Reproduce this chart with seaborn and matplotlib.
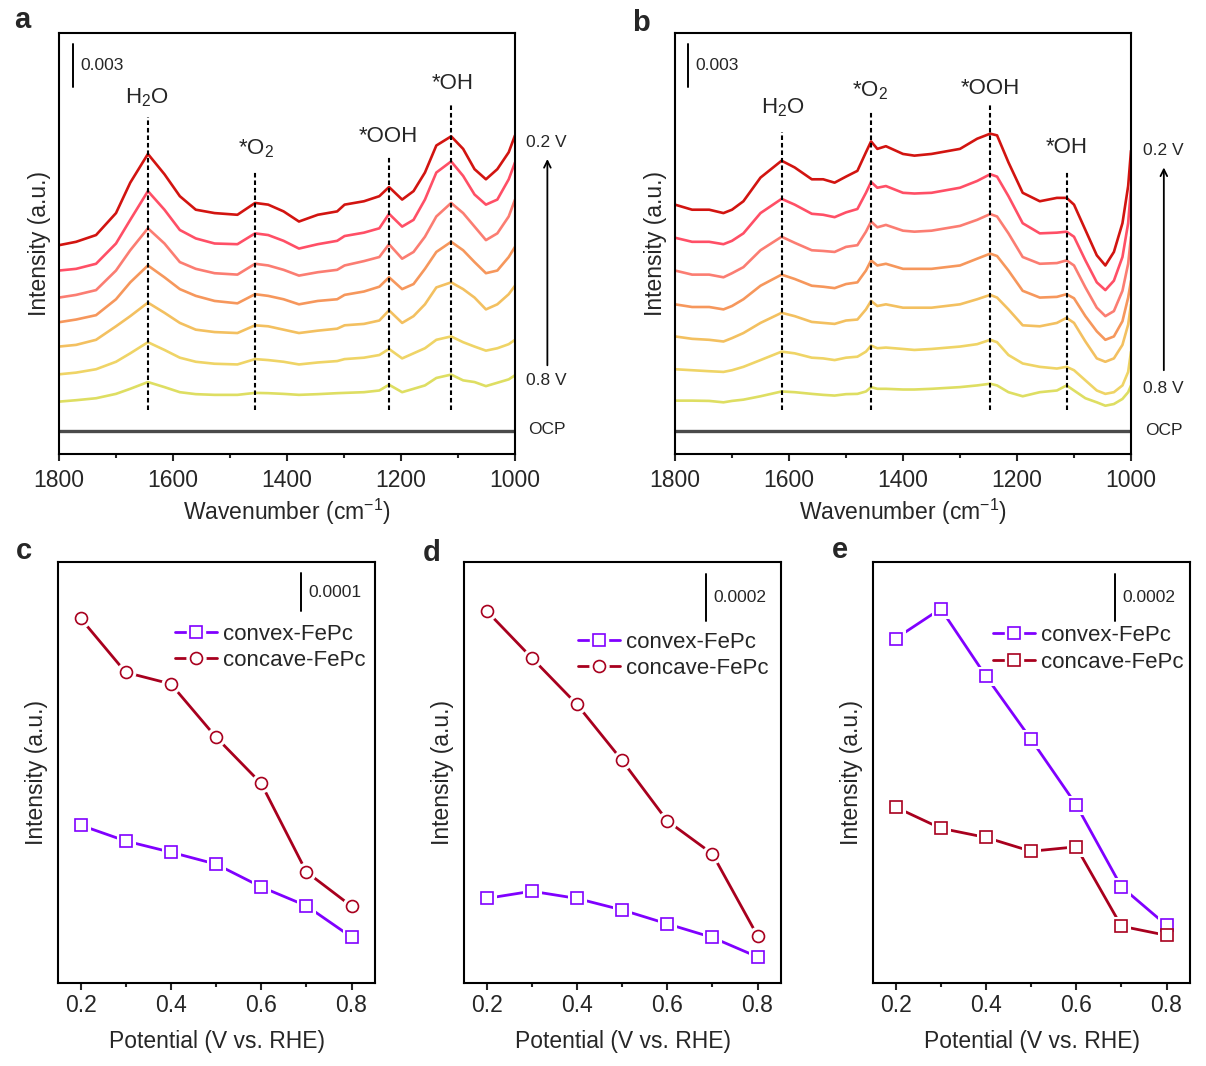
import numpy as np
import pandas as pd
import matplotlib
matplotlib.use("Agg")
import matplotlib.pyplot as plt
import matplotlib.transforms as mtransforms
from matplotlib.ticker import MultipleLocator
from matplotlib.lines import Line2D
from matplotlib.legend_handler import HandlerTuple
import seaborn as sns

# ---------------- data ----------------
potentials_V = ["0.2 V", "0.3 V", "0.4 V", "0.5 V", "0.6 V", "0.7 V", "0.8 V"]

# panel a : in-situ spectra, intensity in units of 1e-3 (offset stacked)
wn_a = [1800, 1770, 1735, 1700, 1675, 1644, 1615, 1588, 1560, 1527, 1487, 1456, 1433, 1406, 1379, 1346,
        1312, 1299, 1265, 1238, 1221, 1198, 1178, 1158, 1138, 1112, 1091, 1071, 1051, 1031, 1011, 1000]
a_02V = [14.83, 15.07, 15.55, 17.11, 19.27, 21.31, 19.87, 18.31, 17.35, 17.11, 16.99, 17.83, 17.71, 17.23, 16.51, 16.99,
         17.23, 17.71, 17.95, 18.31, 18.96, 18.07, 18.67, 19.99, 21.91, 22.56, 21.67, 20.23, 19.51, 20.23, 21.43, 22.63]
a_03V = [13.03, 13.15, 13.51, 14.95, 16.63, 18.67, 17.35, 15.91, 15.31, 14.95, 14.90, 15.67, 15.55, 15.14, 14.59, 14.90,
         15.14, 15.48, 15.72, 16.03, 17.06, 16.15, 16.63, 18.07, 19.99, 20.78, 19.75, 18.43, 17.71, 18.07, 19.51, 20.71]
a_04V = [11.11, 11.30, 11.64, 13.03, 14.47, 16.03, 14.95, 13.63, 13.15, 12.84, 12.74, 13.51, 13.39, 13.08, 12.67, 12.91,
         13.08, 13.39, 13.70, 13.99, 14.90, 13.87, 14.35, 15.43, 16.87, 17.83, 17.11, 16.15, 15.19, 15.67, 16.87, 18.07]
a_05V = [9.36, 9.55, 9.86, 10.99, 12.19, 13.39, 12.55, 11.71, 11.23, 10.87, 10.70, 11.35, 11.23, 10.99, 10.63, 10.87,
         10.99, 11.30, 11.54, 11.88, 12.55, 11.71, 12.07, 13.15, 14.35, 15.07, 14.47, 13.63, 12.84, 13.03, 13.99, 14.71]
a_06V = [7.63, 7.75, 8.11, 9.07, 9.79, 10.75, 10.03, 9.31, 8.83, 8.66, 8.59, 9.14, 9.07, 8.83, 8.59, 8.76,
         8.90, 9.14, 9.24, 9.48, 10.20, 9.31, 9.79, 10.63, 11.83, 12.19, 11.71, 11.11, 10.27, 10.63, 11.35, 11.95]
a_07V = [5.66, 5.78, 6.02, 6.55, 7.15, 7.94, 7.39, 6.84, 6.55, 6.41, 6.36, 6.74, 6.67, 6.55, 6.36, 6.50,
         6.60, 6.74, 6.84, 7.03, 7.46, 6.79, 7.15, 7.51, 8.11, 8.35, 7.94, 7.63, 7.34, 7.51, 7.80, 8.11]
a_08V = [3.72, 3.82, 3.96, 4.27, 4.63, 5.11, 4.75, 4.39, 4.25, 4.20, 4.20, 4.34, 4.32, 4.27, 4.20, 4.25,
         4.32, 4.34, 4.39, 4.51, 4.92, 4.39, 4.63, 4.87, 5.40, 5.64, 5.23, 5.11, 4.82, 5.06, 5.30, 5.59]
ocp_a = 1.65
peaks_a = [1644, 1456, 1221, 1112]
peak_labels_a = ["H$_2$O", "*O$_2$", "*OOH", "*OH"]

# panel b
wn_b = [1800, 1770, 1740, 1715, 1700, 1680, 1650, 1613, 1590, 1560, 1540, 1520, 1500, 1480, 1465, 1456, 1445, 1430, 1400,
        1380, 1350, 1300, 1270, 1247, 1235, 1215, 1190, 1160, 1130, 1113, 1100, 1080, 1060, 1045, 1030, 1015, 1005, 1000]
b_02V = [17.71, 17.35, 17.35, 17.11, 17.35, 17.95, 19.63, 20.83, 20.35, 19.51, 19.51, 19.27, 19.70, 20.11, 21.43, 22.20, 21.67, 21.86, 21.31,
         21.19, 21.31, 21.67, 22.39, 22.75, 22.63, 20.71, 18.55, 17.95, 18.19, 18.19, 17.71, 15.91, 14.11, 13.39, 14.35, 16.39, 19.03, 21.55]
b_03V = [15.36, 15.07, 15.07, 14.90, 15.14, 15.67, 17.11, 18.12, 17.71, 17.06, 16.99, 16.82, 17.16, 17.40, 18.55, 19.32, 18.91, 19.03, 18.55,
         18.50, 18.55, 18.91, 19.39, 19.87, 19.70, 18.31, 16.39, 15.67, 15.72, 15.79, 15.43, 13.75, 12.19, 11.64, 12.31, 13.99, 16.39, 18.91]
b_04V = [13.03, 12.74, 12.74, 12.55, 12.84, 13.27, 14.47, 15.43, 15.00, 14.47, 14.42, 14.35, 14.71, 14.83, 15.79, 16.51, 16.10, 16.27, 15.86,
         15.79, 15.86, 16.20, 16.63, 17.04, 16.87, 15.67, 13.99, 13.51, 13.56, 13.75, 13.39, 11.83, 10.39, 9.79, 10.15, 11.59, 13.51, 15.43]
b_05V = [10.63, 10.44, 10.44, 10.27, 10.51, 10.99, 11.95, 12.74, 12.43, 11.95, 11.88, 11.78, 12.07, 12.19, 13.03, 13.75, 13.39, 13.51, 13.15,
         13.15, 13.15, 13.39, 13.87, 14.23, 14.06, 13.03, 11.59, 11.11, 11.16, 11.35, 11.06, 9.79, 8.71, 8.11, 8.35, 9.43, 11.11, 12.31]
b_06V = [8.35, 8.18, 8.11, 7.99, 8.23, 8.59, 9.31, 10.03, 9.79, 9.38, 9.31, 9.24, 9.48, 9.55, 10.27, 10.87, 10.51, 10.63, 10.39,
         10.39, 10.39, 10.63, 10.99, 11.30, 11.11, 10.27, 9.14, 9.07, 9.31, 9.67, 9.31, 7.99, 6.79, 6.55, 6.79, 7.75, 9.19, 10.63]
b_07V = [6.02, 5.95, 5.88, 5.83, 5.95, 6.19, 6.67, 7.27, 7.15, 6.84, 6.79, 6.67, 6.84, 6.91, 7.27, 7.70, 7.51, 7.56, 7.46,
         7.39, 7.46, 7.63, 7.80, 8.11, 7.94, 7.03, 6.43, 6.19, 6.07, 6.19, 5.95, 5.23, 4.51, 4.27, 4.39, 4.87, 5.83, 7.27]
b_08V = [3.79, 3.79, 3.77, 3.67, 3.77, 3.86, 4.10, 4.44, 4.39, 4.27, 4.20, 4.15, 4.25, 4.27, 4.44, 4.75, 4.63, 4.63, 4.58,
         4.58, 4.63, 4.75, 4.87, 4.99, 4.87, 4.39, 4.10, 4.39, 4.51, 4.87, 4.51, 3.96, 3.67, 3.43, 3.55, 3.91, 4.39, 4.87]
ocp_b = 1.62
peaks_b = [1613, 1456, 1247, 1113]
peak_labels_b = ["H$_2$O", "*O$_2$", "*OOH", "*OH"]

# panels c-e : peak intensity vs potential, units of 1e-4
potential = [0.2, 0.3, 0.4, 0.5, 0.6, 0.7, 0.8]
c_convex = [4.09, 3.68, 3.39, 3.08, 2.49, 2.00, 1.19]
c_concave = [9.45, 8.05, 7.75, 6.37, 5.17, 2.88, 1.99]
d_convex = [3.53, 3.83, 3.53, 3.05, 2.47, 1.90, 1.09]
d_concave = [15.53, 13.57, 11.63, 9.29, 6.77, 5.39, 1.97]
e_convex = [14.67, 15.94, 13.07, 10.38, 7.59, 4.10, 2.46]
e_concave = [7.49, 6.59, 6.20, 5.61, 5.80, 2.42, 2.03]
series_names = ["convex-FePc", "concave-FePc"]

# ---------------- style ----------------
sns.set_style("ticks")
plt.rcParams["font.family"] = ["Liberation Sans", "DejaVu Sans"]
plt.rcParams["mathtext.fontset"] = "custom"
plt.rcParams["mathtext.rm"] = "Liberation Sans"
plt.rcParams["mathtext.it"] = "Liberation Sans:italic"
plt.rcParams["mathtext.bf"] = "Liberation Sans:bold"
plt.rcParams["axes.linewidth"] = 1.5
plt.rcParams["axes.edgecolor"] = "black"

spec_colors = ["#d21410", "#ff4f66", "#fb7d72", "#f6975c", "#f3c060", "#efd466", "#dede62"]
col_convex = "#8000ff"
col_concave = "#a8001e"

FS_LABEL = 16.5
FS_TICK = 16.5
FS_PEAK = 16
FS_SMALL = 12.5
FS_LEG = 16

W, H = 1206, 1066
fig = plt.figure(figsize=(W / 100, H / 100), dpi=100)
fig.patch.set_facecolor("white")


def px_axes(l, t, r, b):
    return fig.add_axes([l / W, 1 - b / H, (r - l) / W, (b - t) / H])


ax_a = px_axes(59, 33, 515, 454)
ax_b = px_axes(675, 33, 1131, 454)
ax_c = px_axes(58, 562, 375, 983)
ax_d = px_axes(464, 562, 781, 983)
ax_e = px_axes(873, 562, 1190, 983)


def style_axes(ax, major, minor, pad):
    for s in ax.spines.values():
        s.set_visible(True)
        s.set_linewidth(1.5)
        s.set_color("black")
    ax.xaxis.set_major_locator(MultipleLocator(major))
    ax.xaxis.set_minor_locator(MultipleLocator(minor))
    ax.tick_params(axis="x", which="major", direction="out", length=5, width=1.5,
                   labelsize=FS_TICK, pad=pad, top=False)
    ax.tick_params(axis="x", which="minor", direction="out", length=3, width=1.5, top=False)
    ax.tick_params(axis="y", which="both", left=False, right=False, labelleft=False)
    ax.set_facecolor("white")


def draw_spectra(ax, wn, curves, ocp, peaks, labels, line_tops, label_xy,
                 bar_x, bar_lab_x, v_labels_y, arrow_y, ocp_lab_y, txt_x, arr_x):
    rows = []
    for name, vals in zip(potentials_V, curves):
        for w, v in zip(wn, vals):
            rows.append((name, w, v))
    df = pd.DataFrame(rows, columns=["potential", "wavenumber", "intensity"])
    sns.lineplot(data=df, x="wavenumber", y="intensity", hue="potential",
                 hue_order=potentials_V, palette=spec_colors, estimator=None,
                 legend=False, linewidth=1.9, ax=ax)
    ax.axhline(ocp, color="#4a4a4a", lw=2.4)
    ax.set_xlim(1800, 1000)
    ax.set_ylim(0, 29.9)
    for p, top in zip(peaks, line_tops):
        ax.vlines(p, 3.1, top, colors="black", linestyles=(0, (2.2, 1.4)), lw=1.5, zorder=5)
    for lab, (lx, ly) in zip(labels, label_xy):
        ax.text(lx, ly, lab, ha="center", va="baseline", fontsize=FS_PEAK)
    # scale bar 0.003
    ax.plot([bar_x, bar_x], [26.1, 29.1], color="black", lw=1.4)
    ax.text(bar_lab_x, 27.6, "0.003", ha="left", va="center", fontsize=FS_SMALL)
    style_axes(ax, 200, 100, 5.5)
    ax.set_xlabel("Wavenumber (cm$^{-1}$)", fontsize=FS_LABEL, labelpad=4)
    ax.set_ylabel("Intensity (a.u.)", fontsize=FS_LABEL, labelpad=6)
    trans = mtransforms.blended_transform_factory(ax.transAxes, ax.transData)
    ax.text(txt_x, v_labels_y[0], "0.2 V", transform=trans, ha="left", va="center", fontsize=FS_SMALL)
    ax.text(txt_x, v_labels_y[1], "0.8 V", transform=trans, ha="left", va="center", fontsize=FS_SMALL)
    ax.text(txt_x + 0.004, ocp_lab_y, "OCP", transform=trans, ha="left", va="center", fontsize=FS_SMALL)
    ax.annotate("", xy=(arr_x, arrow_y[1]), xytext=(arr_x, arrow_y[0]), xycoords=trans, textcoords=trans,
                arrowprops=dict(arrowstyle="->", lw=1.3, color="black", mutation_scale=12,
                                shrinkA=0, shrinkB=0),
                annotation_clip=False)


draw_spectra(ax_a, wn_a, [a_02V, a_03V, a_04V, a_05V, a_06V, a_07V, a_08V], ocp_a,
             peaks_a, peak_labels_a, [23.95, 20.1, 21.1, 24.9],
             [(1645, 24.9), (1455, 21.3), (1223, 22.15), (1110, 25.9)],
             1775, 1762, (22.15, 5.23), (6.3, 20.95), 1.75, 1.024, 1.071)

draw_spectra(ax_b, wn_b, [b_02V, b_03V, b_04V, b_05V, b_06V, b_07V, b_08V], ocp_b,
             peaks_b, peak_labels_b, [22.9, 24.4, 24.8, 20.0],
             [(1611, 24.2), (1457, 25.4), (1247, 25.6), (1113, 21.4)],
             1777, 1765, (21.55, 4.63), (5.95, 20.35), 1.65, 1.027, 1.072)


def draw_trend(ax, conv, conc, conc_marker, ylim, bar, bar_label, leg_anchor):
    ms = 8.6
    specs = [(conv, col_convex, "s"), (conc, col_concave, conc_marker)]
    handles = []
    for vals, col, mk in specs:
        sns.lineplot(x=potential, y=vals, color=col, lw=2.0, ax=ax, estimator=None, zorder=2)
    for vals, col, mk in specs:
        sns.lineplot(x=potential, y=vals, color="white", marker=mk, markersize=ms + 5,
                     markerfacecolor="white", markeredgecolor="white", linestyle="",
                     ax=ax, estimator=None, zorder=3)
        sns.lineplot(x=potential, y=vals, color=col, marker=mk, markersize=ms,
                     markerfacecolor="white", markeredgecolor=col, markeredgewidth=1.2,
                     linestyle="", ax=ax, estimator=None, zorder=4)
        h_line = Line2D([], [], color=col, lw=2.0)
        h_halo = Line2D([], [], color="white", marker=mk, markersize=ms + 5, linestyle="",
                        markerfacecolor="white", markeredgecolor="white")
        h_mk = Line2D([], [], color=col, marker=mk, markersize=ms, linestyle="",
                      markerfacecolor="white", markeredgecolor=col, markeredgewidth=1.2)
        handles.append((h_line, h_halo, h_mk))
    ax.set_xlim(0.15, 0.852)
    ax.set_ylim(*ylim)
    bx, by0, by1 = bar
    ax.plot([bx, bx], [by0, by1], color="black", lw=1.4)
    ax.text(bx + 0.017, (by0 + by1) / 2, bar_label, ha="left", va="center", fontsize=FS_SMALL)
    style_axes(ax, 0.2, 0.1, 3)
    ax.set_xticks([0.2, 0.4, 0.6, 0.8])
    ax.set_xticklabels(["0.2", "0.4", "0.6", "0.8"])
    ax.set_xlabel("Potential (V vs. RHE)", fontsize=FS_LABEL, labelpad=9)
    ax.set_ylabel("Intensity (a.u.)", fontsize=FS_LABEL, labelpad=7)
    ax.legend(handles, series_names, handler_map={tuple: HandlerTuple(ndivide=1, pad=0)},
              loc="center right", bbox_to_anchor=leg_anchor, frameon=False, fontsize=FS_LEG,
              handlelength=1.9, handletextpad=0.25, labelspacing=0.25, borderpad=0, borderaxespad=0)


draw_trend(ax_c, c_convex, c_concave, "o", (0, 10.91), (0.688, 9.63, 10.63), "0.0001", (0.97, 0.797))
draw_trend(ax_d, d_convex, d_concave, "o", (0, 17.57), (0.686, 15.09, 17.09), "0.0002", (0.96, 0.778))
draw_trend(ax_e, e_convex, e_concave, "s", (0, 17.93), (0.685, 15.43, 17.43), "0.0002", (0.98, 0.794))

# panel letters
for lab, (x, y) in zip(["a", "b", "c", "d", "e"],
                       [(22, 20), (641, 23), (24, 551), (432, 553), (840, 550)]):
    fig.text(x / W, 1 - y / H, lab, fontsize=21, fontweight="bold", ha="center", va="center")

fig.savefig("out.png", dpi=100, facecolor="white")
